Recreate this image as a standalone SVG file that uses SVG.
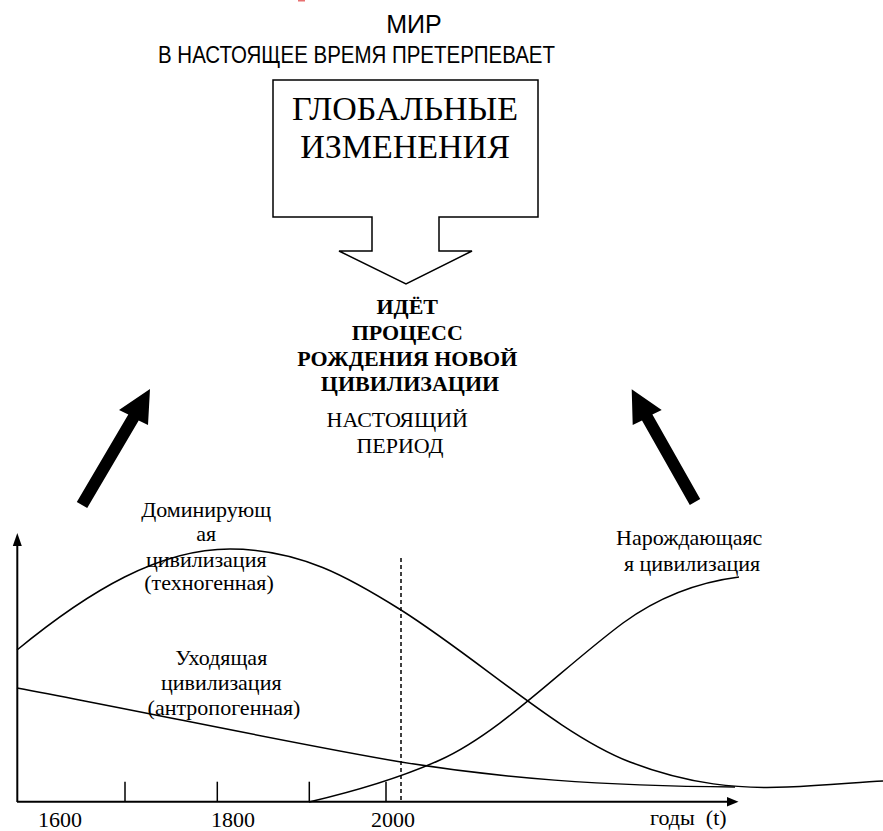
<svg xmlns="http://www.w3.org/2000/svg" width="883" height="831" viewBox="0 0 883 831">
<style>
.sans{font-family:"Liberation Sans",Arial,sans-serif;fill:#000}
.serif{font-family:"Liberation Serif","Times New Roman",serif;fill:#000}
.lbl{font-size:22px}
.curve{fill:none;stroke:#000;stroke-width:1.5}
.axis{fill:none;stroke:#000;stroke-width:2}
.tick{stroke:#000;stroke-width:1.5}
</style>
<rect x="298" y="0" width="7" height="1.5" fill="#e87070"/>
<g id="title">
<text class="sans" x="414" y="33" font-size="25" text-anchor="middle">МИР</text>
<text class="sans" x="158" y="63" font-size="24" textLength="397" lengthAdjust="spacingAndGlyphs">В НАСТОЯЩЕЕ ВРЕМЯ ПРЕТЕРПЕВАЕТ</text>
</g>
<g id="global-changes">
<polygon points="273,80 538,80 538,217 439,217 439,251 472,251 406,284 339,251 372,251 372,217 273,217" fill="#fff" stroke="#000" stroke-width="1.5"/>
<text class="serif" x="405" y="120" font-size="34" text-anchor="middle">ГЛОБАЛЬНЫЕ</text>
<text class="serif" x="405" y="158" font-size="34" text-anchor="middle">ИЗМЕНЕНИЯ</text>
</g>
<g id="process">
<text class="serif" font-weight="bold" font-size="22" text-anchor="middle">
<tspan x="410" y="314">ИДЁТ</tspan>
<tspan x="410" y="340">ПРОЦЕСС</tspan>
<tspan x="410" y="366">РОЖДЕНИЯ НОВОЙ</tspan>
<tspan x="410" y="391">ЦИВИЛИЗАЦИИ</tspan>
</text>
</g>
<g id="present">
<text class="serif" font-size="22" text-anchor="middle">
<tspan x="400" y="427">НАСТОЯЩИЙ</tspan>
<tspan x="400" y="453">ПЕРИОД</tspan>
</text>
</g>
<g id="connectors">
<polygon id="arrow-left" points="150,389 148,425 138.7,420.5 87.2,508 76.8,502 128.3,414.5 119,410" fill="#000"/>
<polygon id="arrow-right" points="631.7,389.3 661.7,410 652.4,414.6 700.2,499.1 689.8,504.9 642,420.4 632.7,425" fill="#000"/>
</g>
<g id="chart">
<line class="axis" x1="17.3" y1="802" x2="17.3" y2="545"/>
<polygon points="17.3,533 12.8,546 21.8,546" fill="#000"/>
<line class="axis" x1="17" y1="801.7" x2="728" y2="801.7"/>
<polygon points="738.5,801.7 727,797 727,806.5" fill="#000"/>
<line class="tick" x1="125" y1="781.7" x2="125" y2="801"/>
<line class="tick" x1="217.3" y1="781.7" x2="217.3" y2="801"/>
<line class="tick" x1="309.3" y1="781.7" x2="309.3" y2="801"/>
<line class="tick" x1="386" y1="781.7" x2="386" y2="801"/>
<line x1="401" y1="558" x2="401" y2="801" stroke="#000" stroke-width="1.5" stroke-dasharray="4,3"/>
<path class="curve" d="M17,650 C90,590 160,549 230,549 C300,549 350,578 401,610 C480,660 560,735 630,762 C690,785 740,789 787,787 C830,785 860,782 883,781"/>
<path class="curve" d="M17,688 C150,713 300,745 401,762 C500,778 600,786 735,787"/>
<path class="curve" d="M309,802 C360,790 400,778 440,760 C500,733 560,670 623,623 C660,596 700,582 739,577"/>
<text class="serif lbl" text-anchor="middle">
<tspan x="209" y="517">Доминирующ</tspan>
<tspan x="209" y="541">ая</tspan>
<tspan x="209" y="567">цивилизация</tspan>
<tspan x="209" y="590">(техногенная)</tspan>
</text>
<text class="serif lbl" text-anchor="middle">
<tspan x="224" y="665">Уходящая</tspan>
<tspan x="224" y="690">цивилизация</tspan>
<tspan x="224" y="715">(антропогенная)</tspan>
</text>
<text class="serif lbl" text-anchor="middle">
<tspan x="692" y="545">Нарождающаяс</tspan>
<tspan x="692" y="571">я цивилизация</tspan>
</text>
<text class="serif lbl" text-anchor="middle" x="60" y="827">1600</text>
<text class="serif lbl" text-anchor="middle" x="233" y="827">1800</text>
<text class="serif lbl" text-anchor="middle" x="393" y="827">2000</text>
<text class="serif lbl" x="650" y="825" xml:space="preserve">годы  (t)</text>
</g>
</svg>
